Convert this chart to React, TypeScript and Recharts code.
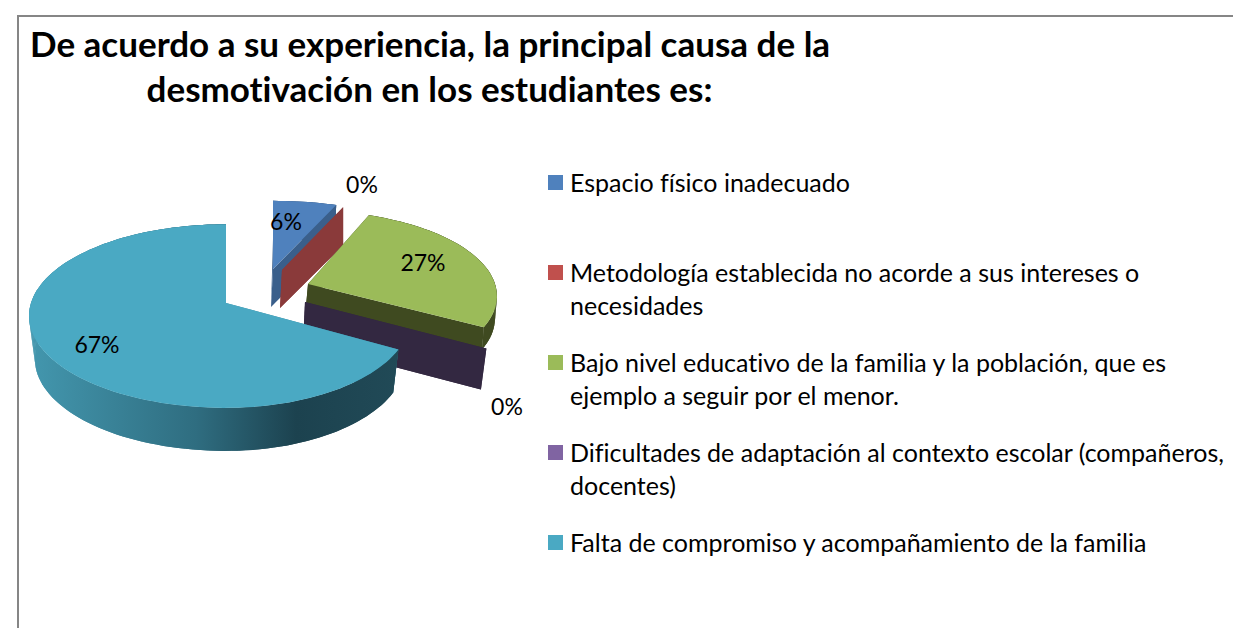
import { PieChart, Pie, Legend } from "recharts";

const TITLE_LINES = [
  "De acuerdo a su experiencia, la principal causa de la",
  "desmotivación en los estudiantes es:",
];
const CATEGORIES = [
  "Espacio físico inadecuado",
  "Metodología establecida no acorde a sus intereses o necesidades",
  "Bajo nivel educativo de la familia y la población, que es ejemplo a seguir por el menor.",
  "Dificultades de adaptación al contexto escolar (compañeros, docentes)",
  "Falta de compromiso y acompañamiento de la familia",
];
const VALUES = [6, 0, 27, 0, 67];
const COLORS = ["#4f81bd", "#c0504d", "#9bbb59", "#8064a2", "#4aa9c3"];
const WALLS = ["#3a5f8b", "#8a3a3a", "#3f4a20", "#332841", "#3a8ba1"];

// explode offset from pie centre, per-slice scale, extrusion and label offset
const SLICE_LAYOUT = [
  { dx: 47, dy: -34, sx: 1.06, sy: 0.865, depth: 38, low: 0.97, lx: 13, ly: -48 },
  { dx: 56, dy: -33, sx: 1.025, sy: 0.85, depth: 38, low: 1, lx: 80, ly: -86 },
  { dx: 82, dy: -19, sx: 1.02, sy: 0.93, depth: 22, low: 0.99, lx: 115, ly: -22 },
  { dx: 79, dy: -1, sx: 1.052, sy: 1, depth: 41, low: 0.97, lx: 202, ly: 104 },
  { dx: 0, dy: 0, sx: 1, sy: 1, depth: 43, low: 0.97, lx: -129, ly: 41 },
];

const PERSPECTIVE = 0.142;
const RIGHT_SIDE = 0.94; // pie is a little narrower right of the centre
const TILT = 0.4615;

const rad = (d: number) => (d * Math.PI) / 180;

const project = (ax: number, ay: number, r: number, theta: number, l: any) => {
  const s = 1 / (1 + PERSPECTIVE * Math.cos(rad(theta)));
  const sin = Math.sin(rad(theta));
  const rx = sin > 0 ? r * RIGHT_SIDE : r;
  return {
    x: ax + rx * sin * s * l.sx,
    y: ay - r * TILT * Math.cos(rad(theta)) * s * l.sy,
  };
};

const Slice3D = (props: any) => {
  const { cx, cy, outerRadius, startAngle, endAngle, payload, fill } = props;
  const l = SLICE_LAYOUT[payload.idx];
  const ax = cx + l.dx;
  const ay = cy + l.dy;
  const t0 = 90 - startAngle;
  const t1 = 90 - endAngle;
  const rim = [];
  const steps = Math.max(1, Math.ceil((t1 - t0) / 2));
  for (let i = 0; i <= steps; i++) {
    rim.push(project(ax, ay, outerRadius, t0 + ((t1 - t0) * i) / steps, l));
  }
  const low = (p: { x: number; y: number }) => ({
    x: ax + (p.x - ax) * l.low,
    y: p.y + l.depth,
  });
  const apexLow = { x: ax - 2, y: ay + l.depth };
  const toPath = (pts: { x: number; y: number }[]) =>
    "M" + pts.map((p) => `${p.x.toFixed(1)},${p.y.toFixed(1)}`).join("L") + "Z";
  const first = rim[0];
  const last = rim[rim.length - 1];
  const wallColor = WALLS[payload.idx];
  const wallFill = payload.idx === 4 ? "url(#tealWall)" : wallColor;
  return (
    <g>
      <path d={toPath([{ x: ax, y: ay }, first, low(first), apexLow])} fill={wallColor} />
      <path d={toPath([{ x: ax, y: ay }, last, low(last), apexLow])} fill={wallColor} />
      {t1 > t0 &&
        rim.slice(1).map((p, i) => (
          <path key={i} d={toPath([rim[i], p, low(p), low(rim[i])])} fill={wallFill} />
        ))}
      {t1 > t0 && <path d={toPath([...rim, ...rim.map(low).reverse()])} fill={wallFill} />}
      {t1 > t0 && <path d={toPath([{ x: ax, y: ay }, ...rim])} fill={fill} />}
    </g>
  );
};

const renderLabel = (props: any) => {
  const { cx, cy, index, value } = props;
  const l = SLICE_LAYOUT[index];
  return (
    <text
      x={cx + l.dx + l.lx}
      y={cy + l.dy + l.ly}
      textAnchor="middle"
      dominantBaseline="central"
      fontFamily="Lato"
      fontSize={23}
      fill="#000"
    >
      {`${value}%`}
    </text>
  );
};

const renderLegend = ({ payload }: any) => (
  <div
    style={{
      fontFamily: "Lato",
      fontSize: 25,
      lineHeight: "33px",
      color: "#000",
      fontVariantLigatures: "none",
    }}
  >
    {payload.map((entry: any) => (
      <div key={entry.value} style={{ height: 90, position: "relative", paddingLeft: 22 }}>
        <span
          style={{
            position: "absolute",
            left: 0,
            top: 9,
            width: 15,
            height: 15,
            background: entry.color,
          }}
        />
        {entry.value}
      </div>
    ))}
  </div>
);

const tableData = CATEGORIES.map((name, idx) => ({
  name,
  idx,
  value: VALUES[idx],
  fill: COLORS[idx],
}));

export default function App() {
  return (
    <div
      style={{
        position: "absolute",
        left: 0,
        top: 0,
        width: 1233,
        height: 628,
        overflow: "hidden",
        background: "#fff",
      }}
    >
      <div
        style={{
          position: "absolute",
          left: 17,
          top: 15,
          width: 1300,
          height: 700,
          border: "2px solid #868686",
        }}
      />
      <div
        style={{
          position: "absolute",
          left: 30,
          top: 21,
          width: 799,
          textAlign: "center",
          fontFamily: "Lato",
          fontWeight: 700,
          fontSize: 35,
          lineHeight: "45px",
          color: "#000",
          whiteSpace: "nowrap",
          fontVariantLigatures: "none",
        }}
      >
        {TITLE_LINES.map((line) => (
          <div key={line}>{line}</div>
        ))}
      </div>
      <PieChart
        width={1233}
        height={628}
        margin={{ top: 0, right: 0, bottom: 0, left: 0 }}
        style={{ position: "absolute", left: 0, top: 0 }}
      >
        <defs>
          <linearGradient id="tealWall" gradientUnits="userSpaceOnUse" x1={30} y1={0} x2={400} y2={0}>
            <stop offset="0" stopColor="#4397ae" />
            <stop offset="0.45" stopColor="#2f6d80" />
            <stop offset="0.72" stopColor="#1c424f" />
            <stop offset="1" stopColor="#214a57" />
          </linearGradient>
        </defs>
        <Pie
          data={tableData}
          dataKey="value"
          nameKey="name"
          cx={226}
          cy={303}
          outerRadius={195}
          startAngle={90}
          endAngle={-270}
          stroke="none"
          shape={Slice3D}
          label={renderLabel}
          labelLine={false}
          isAnimationActive={false}
        />
        <Legend
          layout="vertical"
          content={renderLegend}
          itemSorter={null}
          wrapperStyle={{ position: "absolute", left: 548, top: 166, right: "auto", bottom: "auto", width: 685 }}
        />
      </PieChart>
    </div>
  );
}
